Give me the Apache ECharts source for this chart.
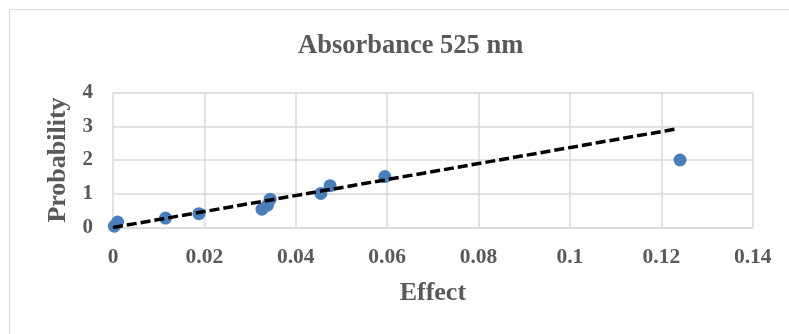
<!DOCTYPE html>
<html>
<head>
<meta charset="utf-8">
<script src="https://cdn.jsdelivr.net/npm/echarts@6/dist/echarts.min.js"></script>
<style>
  html, body { margin: 0; padding: 0; background: #ffffff; }
  #chart { width: 789px; height: 334px; }
</style>
</head>
<body>
<div id="chart"></div>
<script>
// Measured points: effect vs. probability
const effect      = [0.0003, 0.0010, 0.0115, 0.0188, 0.0326, 0.0338, 0.0344, 0.0455, 0.0475, 0.0595, 0.1241];
const probability = [0.04,   0.16,   0.28,   0.41,   0.54,   0.66,   0.84,   1.01,   1.24,   1.51,   2.00];

// Linear trend line end points
const trendEffect      = [0, 0.1233];
const trendProbability = [0, 2.92];

const titleText = 'Absorbance 525 nm';
const xName = 'Effect';
const yName = 'Probability';

const FONT = '"Liberation Serif", "Times New Roman", serif';
const TEXT = '#595959';
const GRID = '#d9d9d9';

const chart = echarts.init(document.getElementById('chart'), null, { renderer: 'canvas' });

chart.setOption({
  animation: false,
  backgroundColor: '#ffffff',
  graphic: [{
    type: 'rect',
    shape: { x: 9.5, y: 9.5, width: 800, height: 340 },
    style: { fill: 'none', stroke: GRID, lineWidth: 1 },
    silent: true,
    z: 0
  }],
  title: {
    text: titleText,
    left: 293,
    top: 28,
    textStyle: { fontFamily: FONT, fontWeight: 'bold', fontSize: 26.5, color: TEXT }
  },
  grid: { left: 113, top: 92.5, right: 36.3, bottom: 106.5, containLabel: false },
  xAxis: {
    type: 'value',
    min: 0, max: 0.14, interval: 0.02,
    name: xName,
    nameLocation: 'middle',
    nameGap: 53,
    nameTextStyle: { fontFamily: FONT, fontWeight: 'bold', fontSize: 26, color: TEXT },
    axisLine: { show: true, lineStyle: { color: GRID, width: 1.5 } },
    axisTick: { show: false },
    axisLabel: {
      margin: 19,
      fontFamily: FONT, fontWeight: 'bold', fontSize: 21.5, color: TEXT,
      formatter: v => String(+v.toFixed(2))
    },
    splitLine: { show: true, lineStyle: { color: GRID, width: 1.5 } }
  },
  yAxis: {
    type: 'value',
    min: 0, max: 4, interval: 1,
    name: yName,
    nameLocation: 'middle',
    nameGap: 41,
    nameTextStyle: { fontFamily: FONT, fontWeight: 'bold', fontSize: 26, color: TEXT },
    axisLine: { show: false },
    axisTick: { show: false },
    axisLabel: { margin: 20, fontFamily: FONT, fontWeight: 'bold', fontSize: 21, color: TEXT },
    splitLine: { show: true, lineStyle: { color: GRID, width: 1.5 } }
  },
  series: [
    {
      type: 'line',
      data: trendEffect.map((x, i) => [x, trendProbability[i]]),
      showSymbol: false,
      symbol: 'none',
      lineStyle: { color: '#000000', width: 3.5, type: [10, 4] },
      z: 3
    },
    {
      type: 'scatter',
      data: effect.map((x, i) => [x, probability[i]]),
      symbol: 'circle',
      symbolSize: 13,
      itemStyle: { color: '#4a7ebb', opacity: 1 },
      z: 2
    }
  ]
});
</script>
</body>
</html>
